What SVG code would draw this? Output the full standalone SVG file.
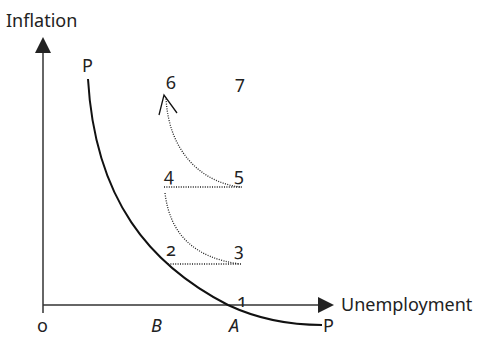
<svg xmlns="http://www.w3.org/2000/svg" width="481" height="338" viewBox="0 0 481 338">
<style>
text{font-family:"Noto Sans","Open Sans","DejaVu Sans",sans-serif;font-size:18px;fill:#222;}
.num{font-variant-numeric:oldstyle-nums;font-feature-settings:"onum" 1;}
.it{font-style:italic;}
.axis{stroke:#333;stroke-width:1.5;fill:none;}
.dot{stroke:#222;stroke-width:1.3;fill:none;stroke-dasharray:1 1.4;}
.curve{stroke:#111;stroke-width:2;fill:none;}
.head{fill:#222;stroke:none;}
</style>
<rect width="481" height="338" fill="#fff"/>
<g id="axes">
<line class="axis" x1="43" y1="313" x2="43" y2="52"/>
<polygon class="head" points="43,37 35,53 51,53"/>
<line class="axis" x1="43" y1="305" x2="319" y2="305"/>
<polygon class="head" points="334,305 318,297 318,313"/>
<text x="6" y="27">Inflation</text>
<text x="341" y="311">Unemployment</text>
<text x="37" y="332">o</text>
<text class="it" x="151" y="332">B</text>
<text class="it" x="229" y="332">A</text>
</g>
<g id="curve-PP">
<path class="curve" d="M88,79 C95,200 150,265 228,305 C260,320 295,325 322,325"/>
<text x="82" y="72">P</text>
<text x="323" y="332">P</text>
</g>
<g id="connectors">
<line class="dot" x1="168" y1="264" x2="242" y2="264"/>
<line class="dot" x1="164" y1="187" x2="242" y2="187"/>
<path class="dot" d="M165,193 C170,235 195,258 240,264"/>
<path class="dot" d="M240,187 C200,182 168,150 166,97"/>
<polyline points="159,115 164,95 177,113" fill="none" stroke="#111" stroke-width="1.3"/>
</g>
<g id="points">
<text class="num" x="237" y="307">1</text>
<text class="num" x="166" y="256">2</text>
<text class="num" x="234" y="256">3</text>
<text class="num" x="164" y="181">4</text>
<text class="num" x="234" y="181">5</text>
<text class="num" x="166" y="89">6</text>
<text class="num" x="235" y="89">7</text>
</g>
</svg>
